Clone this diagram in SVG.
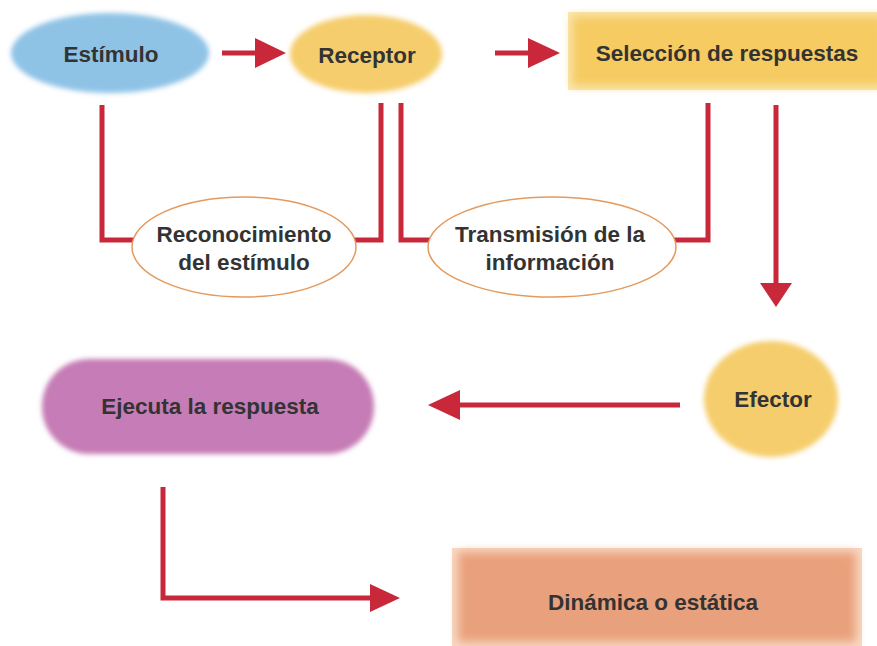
<svg xmlns="http://www.w3.org/2000/svg" width="877" height="646" viewBox="0 0 877 646">
<style>
  .t{font-family:"Liberation Sans",Arial,sans-serif;font-weight:bold;font-size:22.5px;fill:#333;text-anchor:middle}
  .c{fill:none;stroke:#c8283a;stroke-width:5}
  .h{fill:#c8283a}
  .ov{fill:#fff;stroke:#e49a5c;stroke-width:1.5}
</style>
<defs>
  <filter id="soft" x="-20%" y="-30%" width="140%" height="160%"><feGaussianBlur stdDeviation="2.5"/></filter>
  <filter id="soft2" x="-10%" y="-20%" width="120%" height="140%"><feGaussianBlur stdDeviation="5"/></filter>
</defs>
<rect width="877" height="646" fill="#fff"/>
<g id="connectors">
  <line class="c" x1="222" y1="53" x2="258" y2="53"/><polygon class="h" points="255,38 286,53 255,68"/>
  <line class="c" x1="495" y1="53" x2="531" y2="53"/><polygon class="h" points="528,38 560,53 528,68"/>
  <polyline class="c" points="102,105 102,240 135,240"/>
  <polyline class="c" points="353,240 381,240 381,103"/>
  <polyline class="c" points="401,103 401,240 432,240"/>
  <polyline class="c" points="672,240 708,240 708,103"/>
  <line class="c" x1="776" y1="105" x2="776" y2="286"/><polygon class="h" points="760,283 776,307 792,283"/>
  <line class="c" x1="680" y1="405" x2="455" y2="405"/><polygon class="h" points="460,390 428,405 460,420"/>
  <polyline class="c" points="163,487 163,598 373,598"/><polygon class="h" points="370,584 400,598 370,612"/>
</g>
<g id="estimulo">
  <ellipse cx="110" cy="53" rx="99" ry="40" fill="#8fc3e6" filter="url(#soft)"/>
  <text class="t" x="111" y="62">Estímulo</text>
</g>
<g id="receptor">
  <ellipse cx="366" cy="54" rx="76" ry="39" fill="#f5cd6c" filter="url(#soft)"/>
  <text class="t" x="367" y="63">Receptor</text>
</g>
<g id="seleccion">
  <rect x="568" y="12" width="320" height="78" fill="#fbe7b0"/>
  <rect x="572" y="16" width="312" height="70" fill="#f5cb62" filter="url(#soft2)"/>
  <text class="t" x="727" y="61">Selección de respuestas</text>
</g>
<g id="reconocimiento">
  <ellipse class="ov" cx="244" cy="247" rx="112" ry="50"/>
  <text class="t" x="244" y="242">Reconocimiento</text>
  <text class="t" x="244" y="270">del estímulo</text>
</g>
<g id="transmision">
  <ellipse class="ov" cx="552" cy="247" rx="124" ry="50"/>
  <text class="t" x="550" y="242">Transmisión de la</text>
  <text class="t" x="550" y="270">información</text>
</g>
<g id="efector">
  <ellipse cx="771" cy="399" rx="67" ry="58" fill="#f5cd6c" filter="url(#soft)"/>
  <text class="t" x="773" y="407">Efector</text>
</g>
<g id="ejecuta">
  <rect x="42" y="359" width="332" height="95" rx="47" fill="#c67bb6" filter="url(#soft)"/>
  <text class="t" x="210" y="414">Ejecuta la respuesta</text>
</g>
<g id="dinamica">
  <rect x="452" y="548" width="410" height="98" fill="#f8d9c4"/>
  <rect x="458" y="552" width="398" height="90" fill="#e9a07c" filter="url(#soft2)"/>
  <text class="t" x="653" y="610">Dinámica o estática</text>
</g>
</svg>
